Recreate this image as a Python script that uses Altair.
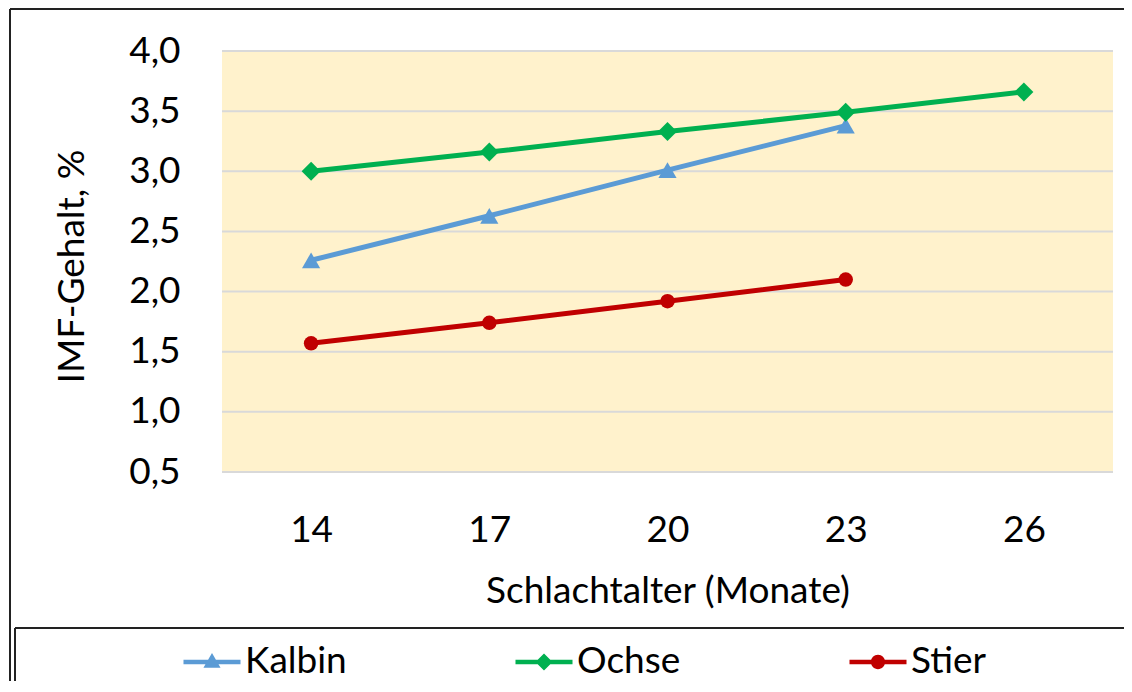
import altair as alt
import pandas as pd

months = ["14", "17", "20", "23", "26"]
series = ["Kalbin", "Ochse", "Stier"]
colors = ["#5B9BD5", "#00B050", "#C00000"]
kalbin = [2.26, 2.63, 3.01, 3.38]
ochse = [3.00, 3.16, 3.33, 3.49, 3.66]
stier = [1.57, 1.74, 1.92, 2.10]
y_ticks = [0.5, 1.0, 1.5, 2.0, 2.5, 3.0, 3.5, 4.0]

rows = []
for name, vals in zip(series, [kalbin, ochse, stier]):
    for m, v in zip(months, vals):
        rows.append({"month": m, "series": name, "value": v})
df = pd.DataFrame(rows)
grid_df = pd.DataFrame({"value": y_ticks})

FONT = "Lato"
FS = 37

# legend symbols: line with marker (custom SVG paths)
leg_tri = "M-1,-0.08L1,-0.08L1,0.08L-1,0.08Z M-0.3,0.2L0,-0.32L0.3,0.2Z"
leg_dia = "M-1,-0.08L1,-0.08L1,0.08L-1,0.08Z M-0.3,0L0,-0.3L0.3,0L0,0.3Z"
leg_cir = "M-1,-0.08L1,-0.08L1,0.08L-1,0.08Z M-0.25,0A0.25,0.25 0 1 1 0.25,0A0.25,0.25 0 1 1 -0.25,0Z"

y_scale = alt.Scale(domain=[0.5, 4.0], nice=False, zero=False)

x_enc = alt.X(
    "month:N",
    sort=months,
    scale=alt.Scale(domain=months, padding=0.5),
    axis=alt.Axis(
        title="Schlachtalter (Monate)",
        labelAngle=0,
        labelFontSize=FS,
        labelFont=FONT,
        labelColor="#000000",
        labelBaseline="alphabetic",
        labelPadding=69,
        ticks=False,
        tickSize=0,
        domain=False,
        grid=False,
        titleFontSize=FS,
        titleFont=FONT,
        titleFontWeight="normal",
        titleColor="#000000",
        titleBaseline="alphabetic",
        titleY=130,
    ),
)
y_enc = alt.Y(
    "value:Q",
    scale=y_scale,
    axis=alt.Axis(
        title="IMF-Gehalt, %",
        values=y_ticks,
        labelExpr="replace(format(datum.value, '.1f'), '.', ',')",
        labelFontSize=FS,
        labelFont=FONT,
        labelColor="#000000",
        labelPadding=42,
        ticks=False,
        tickSize=0,
        domain=False,
        grid=False,
        titleFontSize=FS,
        titleFont=FONT,
        titleFontWeight="normal",
        titleColor="#000000",
        titleX=-150,
        titleY=215,
        titleBaseline="middle",
        titleAlign="center",
        titleAngle=270,
    ),
)
color_scale = alt.Scale(domain=series, range=colors)

base = alt.Chart(df)
one = alt.Chart(pd.DataFrame({"k": [0]}))

plot_bg = one.mark_rect(color="#FFF2CC").encode(
    x=alt.value(0), x2=alt.value("width"), y=alt.value(0), y2=alt.value("height"))

grid = alt.Chart(grid_df).mark_rule(color="#D9D9D9", strokeWidth=2).encode(
    y=y_enc,
    x=alt.value(0), x2=alt.value("width"),
)

lines = base.mark_line(strokeWidth=5).encode(
    x=x_enc, y=y_enc,
    color=alt.Color("series:N", scale=color_scale, legend=None),
)

def pts(name, shape, size):
    return base.transform_filter(alt.datum.series == name).mark_point(
        filled=True, shape=shape, size=size, opacity=1
    ).encode(
        x=x_enc, y=y_enc,
        color=alt.Color("series:N", scale=color_scale, legend=None),
    )

p_k = pts("Kalbin", "triangle-up", 330)
p_o = pts("Ochse", "diamond", 360)
p_s = pts("Stier", "circle", 210)

leg_props = dict(
    title=None,
    orient="none",
    legendX=-39,
    legendY=582,
    direction="horizontal",
    columns=3,
    columnPadding=168,
    gridAlign="each",
    padding=0,
    labelFont=FONT,
    labelFontSize=FS,
    labelColor="#000000",
    labelOffset=4,
    symbolSize=3250,
    symbolStrokeWidth=0,
    symbolOpacity=1,
)

legend_layer = base.transform_filter("false").mark_point(
    filled=True, size=3250, opacity=1
).encode(
    color=alt.Color("series:N", scale=color_scale, legend=alt.Legend(**leg_props)),
    shape=alt.Shape(
        "series:N",
        scale=alt.Scale(domain=series, range=[leg_tri, leg_dia, leg_cir]),
        legend=alt.Legend(**leg_props),
    ),
)

frame_col = "#222222"
frame_top = one.mark_rule(color=frame_col, strokeWidth=2).encode(
    x=alt.value(-212), x2=alt.value(902), y=alt.value(-42), y2=alt.value(-42))
frame_left = one.mark_rule(color=frame_col, strokeWidth=2).encode(
    x=alt.value(-212), x2=alt.value(-212), y=alt.value(-42), y2=alt.value(640))
leg_top = one.mark_rule(color=frame_col, strokeWidth=2).encode(
    x=alt.value(-207), x2=alt.value(902), y=alt.value(577), y2=alt.value(577))
leg_left = one.mark_rule(color=frame_col, strokeWidth=2).encode(
    x=alt.value(-207), x2=alt.value(-207), y=alt.value(577), y2=alt.value(640))

chart = alt.layer(
    plot_bg, grid, lines, p_k, p_o, p_s, legend_layer,
    frame_top, frame_left, leg_top, leg_left
).resolve_scale(
    color="independent", shape="independent"
).properties(
    width=891,
    height=421,
    autosize=alt.AutoSizeParams(type="none"),
    padding={"left": 214, "top": 43, "right": 11, "bottom": 209},
    background="#FFFFFF",
).configure_view(
    stroke="transparent", strokeWidth=0
)

chart.save("out.html", embed_options={"renderer": "svg", "actions": False})
